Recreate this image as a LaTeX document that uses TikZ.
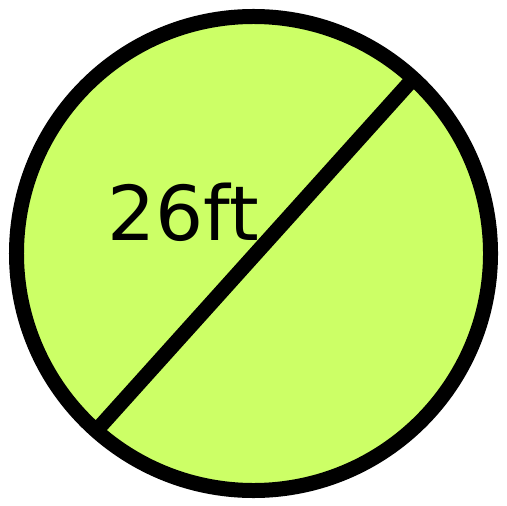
\documentclass[tikz,border=0pt]{standalone}
\usepackage{fontspec}
\setmainfont{DejaVu Sans}
\definecolor{limefill}{HTML}{CCFF66}
\begin{document}
\begin{tikzpicture}[x=1bp,y=-1bp,
  rim/.style={draw=black,line width=15bp,fill=limefill},
  diam/.style={draw=black,line width=15bp},
  lbl/.style={font=\fontsize{76}{82}\selectfont,text=black,inner sep=0pt}]
\useasboundingbox (0,0) rectangle (506,506);
\coordinate (c) at (253.5,253.5);
\draw[rim] (c) circle[radius=237bp];
\coordinate (p) at (412,80);
\coordinate (q) at (96,431);
\draw[diam] (q) -- (p);
\node[lbl] (t) at (183,212) {26ft};
\end{tikzpicture}
\end{document}
